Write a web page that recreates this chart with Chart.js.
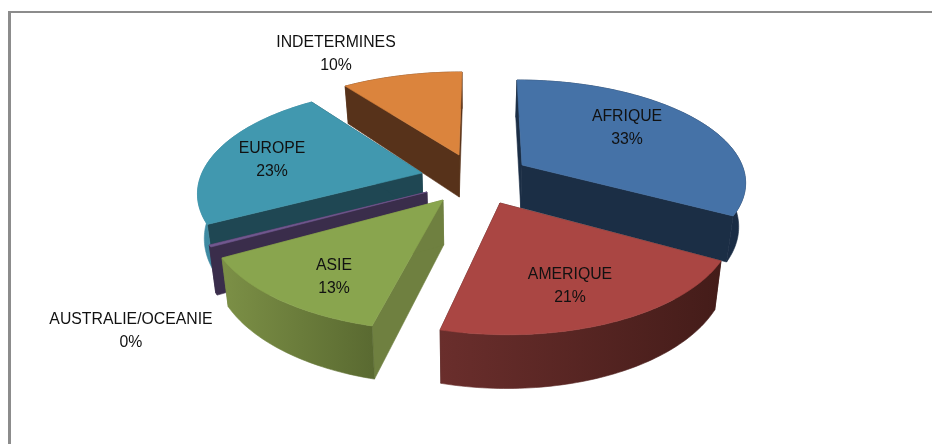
<!DOCTYPE html>
<html>
<head>
<meta charset="utf-8">
<style>html,body{margin:0;padding:0;background:#fff}canvas{display:block}</style>
<script src="https://cdn.jsdelivr.net/npm/chart.js@4"></script>
</head>
<body>
<canvas id="c" width="932" height="444"></canvas>
<script>
const categories = ['AFRIQUE','AMERIQUE','ASIE','AUSTRALIE/OCEANIE','EUROPE','INDETERMINES'];
const shares = [33, 21, 13, 0.3, 22.7, 10];

const topColors   = ['#4572a7','#aa4643','#89a54e','#71588f','#4198af','#db843d'];
const faceColors  = ['#1b2e45','#45201c','#6f8040','#3a2d4b','#1f4753','#57321a'];
const wallLeft    = ['#1b2e45','#6a2e2c','#7c9046','#3a2d4b','#3f8ba3','#57321a'];
const wallRight   = ['#1a2c44','#441c19','#5a6a31','#3a2d4b','#3a8298','#57321a'];
const paintOrder  = [5,0,4,3,2,1];

/* view of each exploded slice: tip position, radii, perspective, shear */
const views = [
  {tx:522,ty:165,a:220,b:98,p:.153,c:5.8},
  {tx:500,ty:203,a:229.7,b:111.2,p:.156,c:6.5},
  {tx:443,ty:200,a:233,b:112,p:.143,c:-3.3},
  {tx:427,ty:192,a:227,b:106,p:.15,c:-3.5},
  {tx:422,ty:173,a:220,b:101,p:.187,c:-2.9},
  {tx:459,ty:155,a:222,b:95.5,p:.15,c:-3.45}
];
const labelPos = [[627,117],[570,275],[334,266],[131,320],[272,149],[336,43]];

function project(v,t,h){
  const X=Math.sin(t),Y=-Math.cos(t),w=1-v.p*Y;
  const x=v.tx+(v.a*X+v.c*Y)/w, y=v.ty+v.b*Y/w;
  return [x-(x-470)*.025*h, y+h*(32+.065*y)];
}
function tip(v,h){
  const x=v.tx,y=v.ty;
  return [x-(x-470)*.025*h, y+h*(32+.065*y)];
}
function poly(ctx,pts,fill){
  ctx.beginPath();
  pts.forEach((p,i)=>i?ctx.lineTo(p[0],p[1]):ctx.moveTo(p[0],p[1]));
  ctx.closePath();
  ctx.fillStyle=fill;ctx.fill();
  ctx.strokeStyle=fill;ctx.lineWidth=.6;ctx.stroke();
}
function arcPts(v,t0,t1,h){
  const n=Math.max(2,Math.ceil(Math.abs(t1-t0)/0.02)),o=[];
  for(let k=0;k<=n;k++)o.push(project(v,t0+(t1-t0)*k/n,h));
  return o;
}
const pie3d={
  id:'pie3d',
  beforeDraw(chart){
    const ctx=chart.ctx;
    ctx.save();
    ctx.fillStyle='#fff';ctx.fillRect(0,0,932,444);
    ctx.fillStyle='#8c8c8c';
    ctx.fillRect(8,11,3,433);
    ctx.fillRect(8,11,924,2);
    ctx.restore();
  },
  beforeDatasetsDraw(chart){
    const ctx=chart.ctx,arcs=chart.getDatasetMeta(0).data;
    ctx.save();
    paintOrder.forEach(i=>{
      const v=views[i],t0=arcs[i].startAngle+Math.PI/2,t1=arcs[i].endAngle+Math.PI/2;
      const T0=tip(v,0),T1=tip(v,1);
      const s0=project(v,t0,0),s1=project(v,t0,1),e0=project(v,t1,0),e1=project(v,t1,1);
      poly(ctx,[T0,s0,s1,T1],faceColors[i]);
      poly(ctx,[T0,e0,e1,T1],faceColors[i]);
      const top=arcPts(v,t0,t1,0),bot=arcPts(v,t0,t1,1);
      const xs=top.map(p=>p[0]),g=ctx.createLinearGradient(Math.min(...xs),0,Math.max(...xs),0);
      g.addColorStop(0,wallLeft[i]);g.addColorStop(1,wallRight[i]);
      poly(ctx,top.concat(bot.reverse()),g);
      poly(ctx,[T0].concat(top),topColors[i]);
    });
    ctx.restore();
    return false;
  },
  afterDraw(chart){
    const ctx=chart.ctx;
    ctx.save();
    ctx.font='15.8px "Liberation Sans", sans-serif';
    ctx.fillStyle='#111';ctx.textAlign='center';ctx.textBaseline='middle';
    categories.forEach((c,i)=>{
      const [x,y]=labelPos[i];
      ctx.fillText(c,x,y);
      ctx.fillText(Math.round(shares[i])+'%',x,y+23);
    });
    ctx.restore();
  }
};
new Chart(document.getElementById('c'),{
  type:'pie',
  data:{labels:categories,datasets:[{data:shares,backgroundColor:topColors,borderWidth:0}]},
  options:{responsive:false,animation:false,plugins:{legend:{display:false},tooltip:{enabled:false}}},
  plugins:[pie3d]
});
</script>
</body>
</html>
